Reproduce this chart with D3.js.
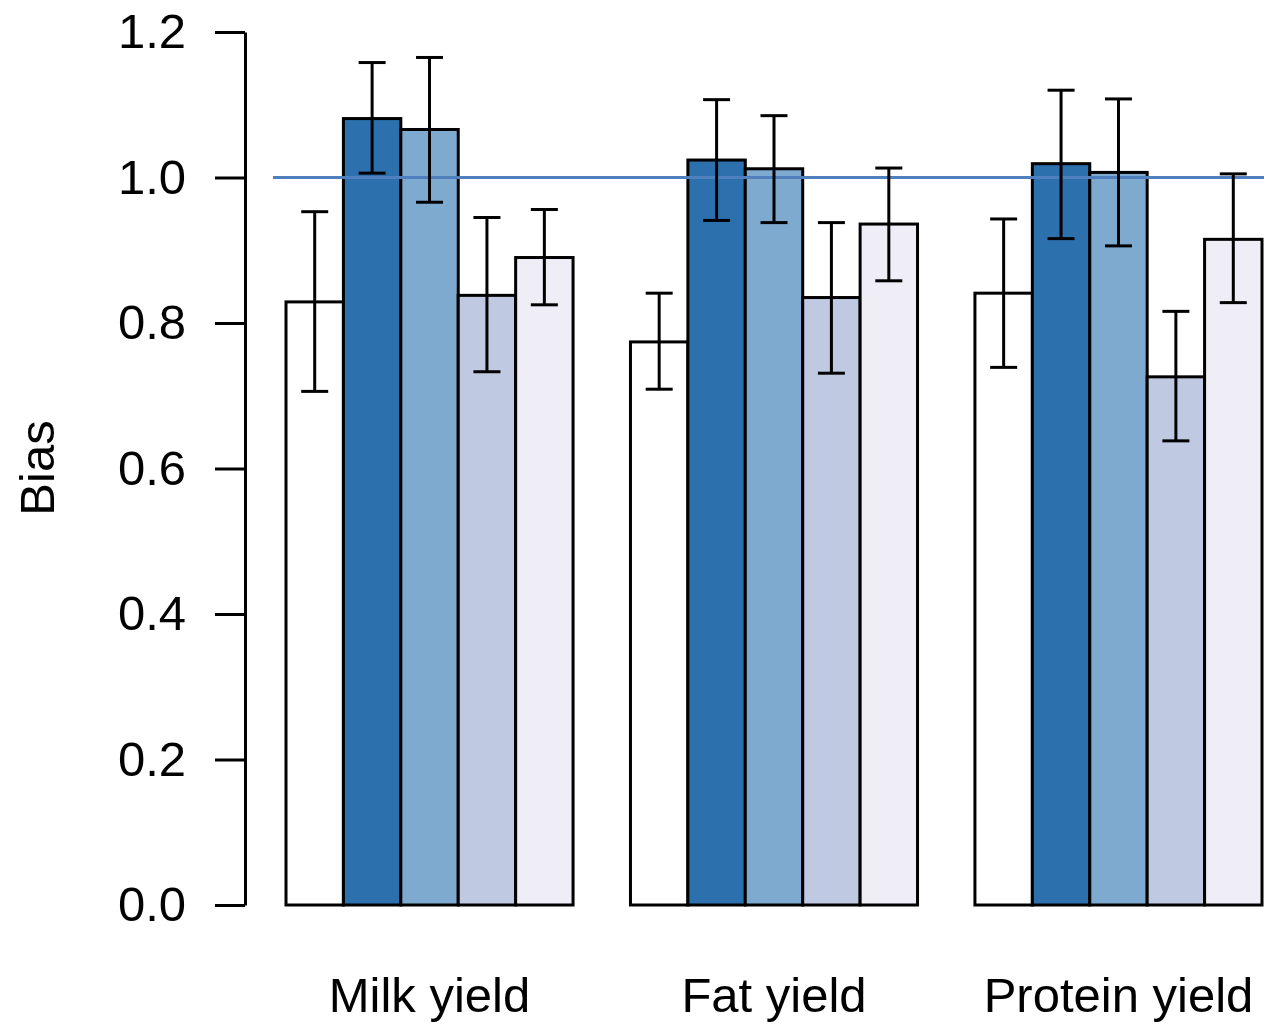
<!DOCTYPE html>
<html>
<head>
<meta charset="utf-8">
<script src="https://cdn.jsdelivr.net/npm/d3@7"></script>
<style>
    html, body { margin: 0; padding: 0; background: #fff; }
    svg text { font-family: "Liberation Sans", Arial, sans-serif; fill: #000; }
</style>
</head>
<body>
<div class="chart"></div>
<script>
// data
const traits = ["Milk yield", "Fat yield", "Protein yield"];
const series = ["s1", "s2", "s3", "s4", "s5"];
const colors = ["#ffffff", "#2c70ae", "#7eaacf", "#bfc9e1", "#efedf5"];

const biasMilk    = [0.829, 1.081, 1.066, 0.838, 0.890];
const biasFat     = [0.774, 1.024, 1.012, 0.835, 0.936];
const biasProtein = [0.841, 1.019, 1.007, 0.726, 0.915];

const lowMilk     = [0.706, 1.006, 0.966, 0.733, 0.825];
const lowFat      = [0.709, 0.941, 0.938, 0.731, 0.858];
const lowProtein  = [0.739, 0.916, 0.906, 0.638, 0.828];

const highMilk    = [0.953, 1.158, 1.165, 0.945, 0.956];
const highFat     = [0.841, 1.107, 1.085, 0.938, 1.013];
const highProtein = [0.943, 1.120, 1.108, 0.816, 1.005];

const yTicks = [0, 0.2, 0.4, 0.6, 0.8, 1.0, 1.2];
const refValue = 1.0;

const width = 1264;
const height = 1025;
const fontSize = "49px";

const bias = [biasMilk, biasFat, biasProtein];
const low = [lowMilk, lowFat, lowProtein];
const high = [highMilk, highFat, highProtein];

// flatten into rows for drawing
const rows = [];
traits.forEach((t, gi) => {
    series.forEach((s, si) => {
        rows.push({ trait: t, key: s, color: colors[si],
            value: bias[gi][si], lo: low[gi][si], hi: high[gi][si] });
    });
});

const svg = d3.select(".chart")
    .append("svg")
    .attr("width", width)
    .attr("height", height);

const yScale = d3.scaleLinear()
    .domain([0, 1.2])
    .range([905, 32]);

const xGroup = d3.scaleBand()
    .domain(traits)
    .range([286, 1262])
    .paddingInner(1 / 6)
    .paddingOuter(0);

const xInner = d3.scaleBand()
    .domain(series)
    .range([0, xGroup.bandwidth()])
    .padding(0);

// bars
svg.append("g")
    .selectAll("rect")
    .data(rows)
    .join("rect")
    .attr("x", d => xGroup(d.trait) + xInner(d.key))
    .attr("y", d => yScale(d.value))
    .attr("width", xInner.bandwidth())
    .attr("height", d => yScale(0) - yScale(d.value))
    .attr("fill", d => d.color)
    .attr("stroke", "#000")
    .attr("stroke-width", 3);

// reference line at 1
svg.append("line")
    .attr("x1", 273)
    .attr("x2", width)
    .attr("y1", yScale(refValue))
    .attr("y2", yScale(refValue))
    .attr("stroke", "#4f7fbd")
    .attr("stroke-width", 3);

// error bars
const capHalf = 13.5;
const err = svg.append("g")
    .attr("stroke", "#000")
    .attr("stroke-width", 3)
    .selectAll("g")
    .data(rows)
    .join("g")
    .attr("transform", d => `translate(${xGroup(d.trait) + xInner(d.key) + xInner.bandwidth() / 2},0)`);

err.append("line")
    .attr("y1", d => yScale(d.lo))
    .attr("y2", d => yScale(d.hi));
err.append("line")
    .attr("x1", -capHalf).attr("x2", capHalf)
    .attr("y1", d => yScale(d.hi)).attr("y2", d => yScale(d.hi));
err.append("line")
    .attr("x1", -capHalf).attr("x2", capHalf)
    .attr("y1", d => yScale(d.lo)).attr("y2", d => yScale(d.lo));

// y axis
const yAxis = d3.axisLeft(yScale)
    .tickValues(yTicks)
    .tickFormat(d3.format(".1f"))
    .tickSize(30)
    .tickSizeOuter(0)
    .tickPadding(29);

const yAxisGroup = svg.append("g")
    .attr("transform", "translate(245,0)")
    .call(yAxis);

yAxisGroup.selectAll("path, line")
    .attr("stroke", "#000")
    .attr("stroke-width", 3);
yAxisGroup.selectAll("text")
    .style("font-size", fontSize)
    .attr("fill", "#000");

// x labels
svg.append("g")
    .selectAll("text")
    .data(traits)
    .join("text")
    .attr("x", d => xGroup(d) + xGroup.bandwidth() / 2)
    .attr("y", 1012)
    .attr("text-anchor", "middle")
    .style("font-size", fontSize)
    .text(d => d);

// y title
svg.append("text")
    .attr("transform", "translate(54,468) rotate(-90)")
    .attr("text-anchor", "middle")
    .style("font-size", fontSize)
    .text("Bias");
</script>
</body>
</html>
